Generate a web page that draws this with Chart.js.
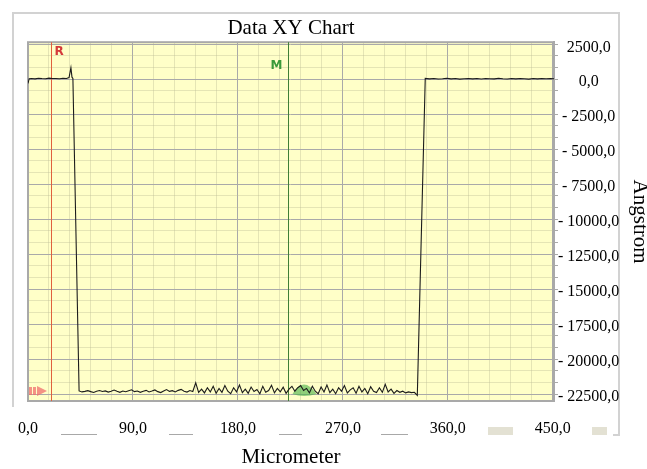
<!DOCTYPE html>
<html>
<head>
<meta charset="utf-8">
<script src="https://cdn.jsdelivr.net/npm/chart.js@4.4.1/dist/chart.umd.min.js"></script>
<style>
  html, body { margin: 0; padding: 0; background: #fff; }
  #wrap { width: 647px; height: 469px; position: relative; }
</style>
</head>
<body>
<div id="wrap"><canvas id="graficoXY"></canvas></div>
<script>
/* ================= DADOS ================= */

// platô da esquerda + pico antes da queda
const esquerdaX = [0, 1, 3, 6, 9, 12, 15, 18, 21, 24, 27, 30, 33, 35.2, 36.8, 37.7, 38.5];
const esquerdaY = [-300, 40, 60, 30, 70, 50, 40, 80, 50, 60, 40, 70, 60, 120, 820, 150, 60];

// fundo ruidoso (amostrado a cada 2,5 Micrometer)
const fundoInicio = 43.8;
const fundoPasso = 2.5;
const fundoY = [
  -22280, -22350, -22310, -22260, -22330, -22390, -22300, -22250, -22320, -22280,
  -22360, -22300, -22220, -22310, -22380, -22290, -22340, -22270, -22200, -22330,
  -22290, -22380, -22310, -22240, -22350, -22290, -22210, -22330, -22400, -22290,
  -22180, -22310, -22260, -22350, -22240, -22170, -22300, -22360, -22250,
  -22320, -21700, -22380, -22150, -22420, -22050, -22350, -21950, -22450, -22100,
  -22380, -21900, -22300, -22480, -22050, -22350, -21850, -22400, -22150, -22450,
  -22000, -22320, -22180, -22480, -21950, -22380, -22250, -21880, -22420, -22100,
  -22350, -22010, -22450, -22150, -21950, -22300, -22050, -21900, -22250, -22100,
  -22420, -21950, -22300, -22480, -22000, -22350, -21850, -22400, -22150, -22480,
  -22050, -22300, -21900, -22420, -22200, -22050, -22450, -21950, -22350, -22100,
  -22480, -21980, -22300, -22400, -22050, -22380, -21800, -22350, -22150, -22450,
  -22250, -22380, -22300, -22420, -22350, -22400, -22380, -22600
];

// platô da direita
const direitaInicio = 340.6;
const direitaPasso = 3.7;
const direitaY = [
  60, 30, 50, 20, 40, 70, 30, 50, 10, 40,
  60, 30, 50, 20, 60, 40, 30, 70, 40, 20,
  50, 30, 60, 40, 10, 50, 30, 60, 40, 50, 30
];

const xMin = 0, xMax = 451;
const yMin = -23000, yMax = 2650;
const xTicksPrincipais = [0, 90, 180, 270, 360, 450];
const yTicksPrincipais = [2500, 0, -2500, -5000, -7500, -10000, -12500, -15000, -17500, -20000, -22500];
const xDivisoes = 5;
const yDivisoes = 3;

// cursores R e M
const cursorR = 19.5;
const cursorM = 223;

// tracinhos e caixas soltos abaixo do eixo X
const tracosX = [44, 131, 225, 314];
const caixasX = [405, 490];

const serif = "'Liberation Serif', 'Times New Roman', serif";

/* ================= UTIL ================= */

function montarPontos() {
  const pts = [];
  esquerdaX.forEach((x, i) => pts.push({ x, y: esquerdaY[i] }));
  fundoY.forEach((y, i) => pts.push({ x: fundoInicio + i * fundoPasso, y }));
  direitaY.forEach((y, i) => pts.push({ x: direitaInicio + i * direitaPasso, y }));
  return pts;
}

function ticksComMenores(principais, divisoes, min, max) {
  const ord = [...principais].sort((a, b) => a - b);
  const passo = (ord[1] - ord[0]) / divisoes;
  const lista = [];
  for (let k = -divisoes; k <= (ord.length - 1) * divisoes + divisoes; k++) {
    const v = ord[0] + k * passo;
    if (v < min - 1e-6 || v > max + 1e-6) continue;
    const major = ord.some(m => Math.abs(m - v) < 1e-6);
    lista.push({ value: major ? Math.round(v) : v, major });
  }
  return lista;
}

function formatar(v) {
  const s = Math.abs(Math.round(v)).toFixed(1).replace(".", ",");
  return v < 0 ? "- " + s : s;
}

const corGrade = ctx => (ctx.tick && ctx.tick.major) ? "#a9a9a9" : "rgba(190,190,150,0.4)";

/* ================= PLUGINS ================= */

const fundoPlugin = {
  id: "fundo",
  beforeDraw(chart) {
    const { ctx, chartArea: a } = chart;
    ctx.save();
    ctx.fillStyle = "#fff";
    ctx.fillRect(0, 0, chart.width, chart.height);

    ctx.strokeStyle = "#d2d2d2";
    ctx.lineWidth = 2;
    ctx.beginPath();
    ctx.moveTo(a.left - 15, a.bottom + 6);
    ctx.lineTo(a.left - 15, 13);
    ctx.lineTo(a.right + 65, 13);
    ctx.lineTo(a.right + 65, a.bottom + 34);
    ctx.lineTo(a.right + 59, a.bottom + 34);
    ctx.stroke();

    ctx.fillStyle = "#ffffc8";
    ctx.fillRect(a.left, a.top, a.right - a.left, a.bottom - a.top);
    ctx.restore();
  }
};

const cursoresPlugin = {
  id: "cursores",
  beforeDatasetsDraw(chart) {
    const { ctx, chartArea: a, scales: { x } } = chart;
    ctx.save();

    ctx.strokeStyle = "#a9a9a9";
    ctx.lineWidth = 2;
    ctx.strokeRect(a.left, a.top, a.right - a.left, a.bottom - a.top);

    const xr = Math.round(x.getPixelForValue(cursorR)) + 0.5;
    const xm = Math.round(x.getPixelForValue(cursorM)) + 0.5;

    ctx.lineWidth = 1;
    ctx.strokeStyle = "#e0603e";
    ctx.beginPath(); ctx.moveTo(xr, a.top); ctx.lineTo(xr, a.bottom); ctx.stroke();
    ctx.strokeStyle = "#3f7f37";
    ctx.beginPath(); ctx.moveTo(xm, a.top); ctx.lineTo(xm, a.bottom); ctx.stroke();

    ctx.font = "bold 12px 'DejaVu Sans', sans-serif";
    ctx.textBaseline = "middle";
    ctx.fillStyle = "#d43a3a";
    ctx.textAlign = "left";
    ctx.fillText("R", xr + 3, a.top + 10);
    ctx.fillStyle = "#3a9a3a";
    ctx.textAlign = "right";
    ctx.fillText("M", xm - 6, a.top + 24);

    // seta vermelha do canto
    const yb = a.bottom - 10;
    ctx.fillStyle = "rgba(240,110,110,0.75)";
    ctx.fillRect(a.left + 1, yb - 4, 3, 8);
    ctx.fillRect(a.left + 5, yb - 4, 3, 8);
    ctx.beginPath();
    ctx.moveTo(a.left + 9, yb - 5);
    ctx.lineTo(a.left + 19, yb);
    ctx.lineTo(a.left + 9, yb + 5);
    ctx.closePath();
    ctx.fill();

    // marca verde perto do M
    ctx.fillStyle = "rgba(70,175,70,0.6)";
    ctx.beginPath();
    ctx.moveTo(xm + 4, a.bottom - 7);
    ctx.quadraticCurveTo(xm + 15, a.bottom - 26, xm + 28, a.bottom - 7);
    ctx.quadraticCurveTo(xm + 15, a.bottom - 3, xm + 4, a.bottom - 7);
    ctx.closePath();
    ctx.fill();

    ctx.restore();
  },
  afterDraw(chart) {
    const { ctx, chartArea: a, scales: { x } } = chart;
    const larguras = [36, 24, 23, 27];
    const largCaixas = [25, 15];
    ctx.save();
    ctx.fillStyle = "#a8a8a8";
    tracosX.forEach((v, i) => {
      const px = x.getPixelForValue(v);
      ctx.fillRect(Math.round(px - larguras[i] / 2), a.bottom + 33, larguras[i], 1);
    });
    ctx.fillStyle = "#e3e1d3";
    caixasX.forEach((v, i) => {
      const px = x.getPixelForValue(v);
      ctx.fillRect(Math.round(px - largCaixas[i] / 2), a.bottom + 26, largCaixas[i], 8);
    });
    ctx.restore();
  }
};

/* ================= GRÁFICO ================= */

new Chart(document.getElementById("graficoXY"), {
  type: "line",
  data: {
    datasets: [{
      data: montarPontos(),
      borderColor: "#1c1c1c",
      borderWidth: 1.1,
      pointRadius: 0,
      tension: 0,
      fill: false
    }]
  },
  options: {
    responsive: true,
    maintainAspectRatio: false,
    animation: false,
    devicePixelRatio: 1,
    layout: { padding: { left: 27, top: 0, right: 0, bottom: 0 } },
    plugins: {
      legend: { display: false },
      tooltip: { enabled: false },
      title: {
        display: true,
        text: "Data XY Chart",
        fullSize: false,
        color: "#000",
        font: { family: serif, size: 21, weight: "normal", lineHeight: 1.2 },
        padding: { top: 16, bottom: 1 }
      }
    },
    scales: {
      x: {
        type: "linear",
        position: "bottom",
        min: xMin,
        max: xMax,
        afterBuildTicks: s => { s.ticks = ticksComMenores(xTicksPrincipais, xDivisoes, xMin, xMax); },
        afterFit: s => { s.height = 68; },
        grid: { color: corGrade, lineWidth: 1, drawTicks: false },
        border: { display: true, color: "#a9a9a9", width: 2 },
        ticks: {
          autoSkip: false,
          maxRotation: 0,
          padding: 18,
          color: "#000",
          font: { family: serif, size: 16 },
          callback: (v, i, ticks) => ticks[i].major ? formatar(v) : ""
        },
        title: {
          display: true,
          text: "Micrometer",
          color: "#000",
          font: { family: serif, size: 21, lineHeight: 1 },
          padding: { top: 0, bottom: 1.5 }
        }
      },
      y: {
        type: "linear",
        position: "right",
        min: yMin,
        max: yMax,
        afterBuildTicks: s => { s.ticks = ticksComMenores(yTicksPrincipais, yDivisoes, yMin, yMax); },
        afterFit: s => { s.width = 93; },
        grid: { color: corGrade, lineWidth: 1, drawTicks: true, tickLength: 4, tickColor: "#a9a9a9" },
        border: { display: true, color: "#a9a9a9", width: 2 },
        ticks: {
          autoSkip: false,
          crossAlign: "center",
          padding: 0,
          labelOffset: 3,
          color: "#000",
          font: { family: serif, size: 16 },
          callback: (v, i, ticks) => ticks[i].major ? formatar(v) : ""
        },
        title: {
          display: true,
          text: "Angstrom",
          color: "#000",
          font: { family: serif, size: 21, lineHeight: 0.7 },
          padding: 0
        }
      }
    }
  },
  plugins: [fundoPlugin, cursoresPlugin]
});
</script>
</body>
</html>
